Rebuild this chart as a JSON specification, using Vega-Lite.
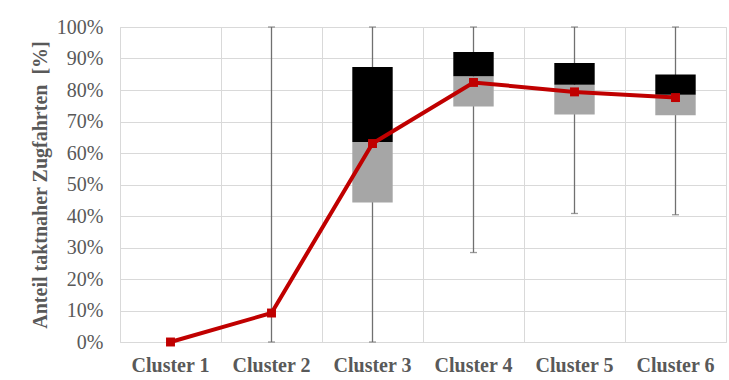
{
  "$schema": "https://vega.github.io/schema/vega-lite/v6.json",
  "autosize": {"type": "none"},
  "width": 606,
  "height": 315,
  "padding": {"left": 120, "top": 27, "right": 3, "bottom": 38},
  "background": "white",
  "config": {
    "view": {"stroke": "#d9d9d9", "strokeWidth": 1},
    "font": "Liberation Serif",
    "axis": {
      "ticks": false,
      "domain": false,
      "grid": true,
      "gridColor": "#d9d9d9",
      "gridWidth": 1,
      "labelFont": "Liberation Serif",
      "labelColor": "#595959",
      "labelFontSize": 20,
      "titleFont": "Liberation Serif",
      "titleFontWeight": "bold",
      "titleFontSize": 20,
      "titleColor": "#595959"
    },
    "axisX": {"labelFontWeight": "bold", "labelAngle": 0, "bandPosition": 0, "labelPadding": 13},
    "axisY": {"labelOverlap": false, "titlePadding": 6, "labelPadding": 17}
  },
  "data": {
    "values": [
      {"cluster": "Cluster 1", "min": null, "q1": null, "median": null, "q3": null, "max": null, "mean": 0},
      {"cluster": "Cluster 2", "min": 0, "q1": null, "median": null, "q3": null, "max": 1, "mean": 0.092},
      {"cluster": "Cluster 3", "min": 0, "q1": 0.443, "median": 0.635, "q3": 0.873, "max": 1, "mean": 0.63},
      {"cluster": "Cluster 4", "min": 0.284, "q1": 0.748, "median": 0.844, "q3": 0.921, "max": 1, "mean": 0.824},
      {"cluster": "Cluster 5", "min": 0.408, "q1": 0.722, "median": 0.817, "q3": 0.886, "max": 1, "mean": 0.794},
      {"cluster": "Cluster 6", "min": 0.404, "q1": 0.72, "median": 0.785, "q3": 0.849, "max": 1, "mean": 0.776}
    ]
  },
  "encoding": {
    "x": {
      "field": "cluster",
      "type": "nominal",
      "sort": ["Cluster 1", "Cluster 2", "Cluster 3", "Cluster 4", "Cluster 5", "Cluster 6"],
      "scale": {"domain": ["Cluster 1", "Cluster 2", "Cluster 3", "Cluster 4", "Cluster 5", "Cluster 6"], "paddingInner": 0, "paddingOuter": 0},
      "axis": {"title": null}
    }
  },
  "layer": [
    {
      "mark": {"type": "rule", "color": "#707070", "strokeWidth": 1.3},
      "encoding": {
        "y": {
          "field": "min",
          "type": "quantitative",
          "scale": {"domain": [0, 1], "nice": false},
          "axis": {"format": ".0%", "values": [0, 0.1, 0.2, 0.3, 0.4, 0.5, 0.6, 0.7, 0.8, 0.9, 1], "title": "Anteil taktnaher Zugfahrten \u00a0[%]"}
        },
        "y2": {"field": "max"}
      }
    },
    {
      "mark": {"type": "tick", "color": "#707070", "thickness": 1.3, "size": 7},
      "encoding": {"y": {"field": "min", "type": "quantitative", "axis": {"format": ".0%", "values": [0, 0.1, 0.2, 0.3, 0.4, 0.5, 0.6, 0.7, 0.8, 0.9, 1], "title": "Anteil taktnaher Zugfahrten \u00a0[%]"}}}
    },
    {
      "mark": {"type": "tick", "color": "#707070", "thickness": 1.3, "size": 7},
      "encoding": {"y": {"field": "max", "type": "quantitative", "axis": {"format": ".0%", "values": [0, 0.1, 0.2, 0.3, 0.4, 0.5, 0.6, 0.7, 0.8, 0.9, 1], "title": "Anteil taktnaher Zugfahrten \u00a0[%]"}}}
    },
    {
      "mark": {"type": "bar", "color": "#a6a6a6", "width": {"band": 0.4}},
      "encoding": {
        "y": {"field": "q1", "type": "quantitative", "axis": {"format": ".0%", "values": [0, 0.1, 0.2, 0.3, 0.4, 0.5, 0.6, 0.7, 0.8, 0.9, 1], "title": "Anteil taktnaher Zugfahrten \u00a0[%]"}},
        "y2": {"field": "median"}
      }
    },
    {
      "mark": {"type": "bar", "color": "#000000", "width": {"band": 0.4}},
      "encoding": {
        "y": {"field": "median", "type": "quantitative", "axis": {"format": ".0%", "values": [0, 0.1, 0.2, 0.3, 0.4, 0.5, 0.6, 0.7, 0.8, 0.9, 1], "title": "Anteil taktnaher Zugfahrten \u00a0[%]"}},
        "y2": {"field": "q3"}
      }
    },
    {
      "mark": {"type": "line", "color": "#c00000", "strokeWidth": 4},
      "encoding": {"y": {"field": "mean", "type": "quantitative", "axis": {"format": ".0%", "values": [0, 0.1, 0.2, 0.3, 0.4, 0.5, 0.6, 0.7, 0.8, 0.9, 1], "title": "Anteil taktnaher Zugfahrten \u00a0[%]"}}}
    },
    {
      "mark": {"type": "point", "shape": "square", "filled": true, "color": "#c00000", "size": 80, "opacity": 1},
      "encoding": {"y": {"field": "mean", "type": "quantitative", "axis": {"format": ".0%", "values": [0, 0.1, 0.2, 0.3, 0.4, 0.5, 0.6, 0.7, 0.8, 0.9, 1], "title": "Anteil taktnaher Zugfahrten \u00a0[%]"}}}
    }
  ]
}
